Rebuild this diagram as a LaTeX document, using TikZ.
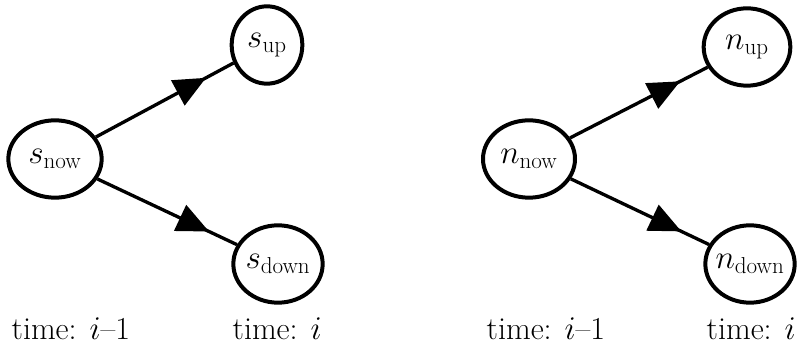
\documentclass[tikz,border=0pt]{standalone}
\usepackage{amsmath}
\usetikzlibrary{shapes.geometric, arrows.meta, decorations.markings}
\DeclareMathSizes{24}{24}{18}{13}

\begin{document}
\begin{tikzpicture}[x = .75pt, y = -.75pt, font = \fontsize{24}{29}\selectfont,
  state/.style = {draw, ellipse, line width = 3pt, inner xsep = -4pt, inner ysep = 0pt, minimum width = 67pt, minimum height = 58pt},
  branch/.style = {line width = 2.5pt, decoration = {markings, mark = at position .8 with {\arrow{Triangle[length = 24pt, width = 21pt]}}}, postaction = {decorate}}]
\useasboundingbox (0,0) rectangle (799,345);
% stock tree
\node[state, minimum width = 70pt] (snow) at (55,159) {$s_{\mathrm{now}}$};
\node[state, minimum width = 53pt] (sup) at (267,45) {$s_{\mathrm{up}}$};
\node[state] (sdown) at (278,264) {$s_{\mathrm{down}}$};
\draw[branch] (snow) -- (sup);
\draw[branch] (snow) -- (sdown);
\node[anchor = base west] (tsnow) at (7,339) {time: $i$--1};
\node[anchor = base west] (tsup) at (228,339) {time: $i$};
% number tree
\node[state, minimum width = 69pt] (nnow) at (529,159) {$n_{\mathrm{now}}$};
\node[state, minimum width = 65pt] (nup) at (747,47) {$n_{\mathrm{up}}$};
\node[state] (ndown) at (750,264) {$n_{\mathrm{down}}$};
\draw[branch] (nnow) -- (nup);
\draw[branch] (nnow) -- (ndown);
\node[anchor = base west] (tnnow) at (482,339) {time: $i$--1};
\node[anchor = base west] (tnup) at (702,339) {time: $i$};
\end{tikzpicture}
\end{document}
